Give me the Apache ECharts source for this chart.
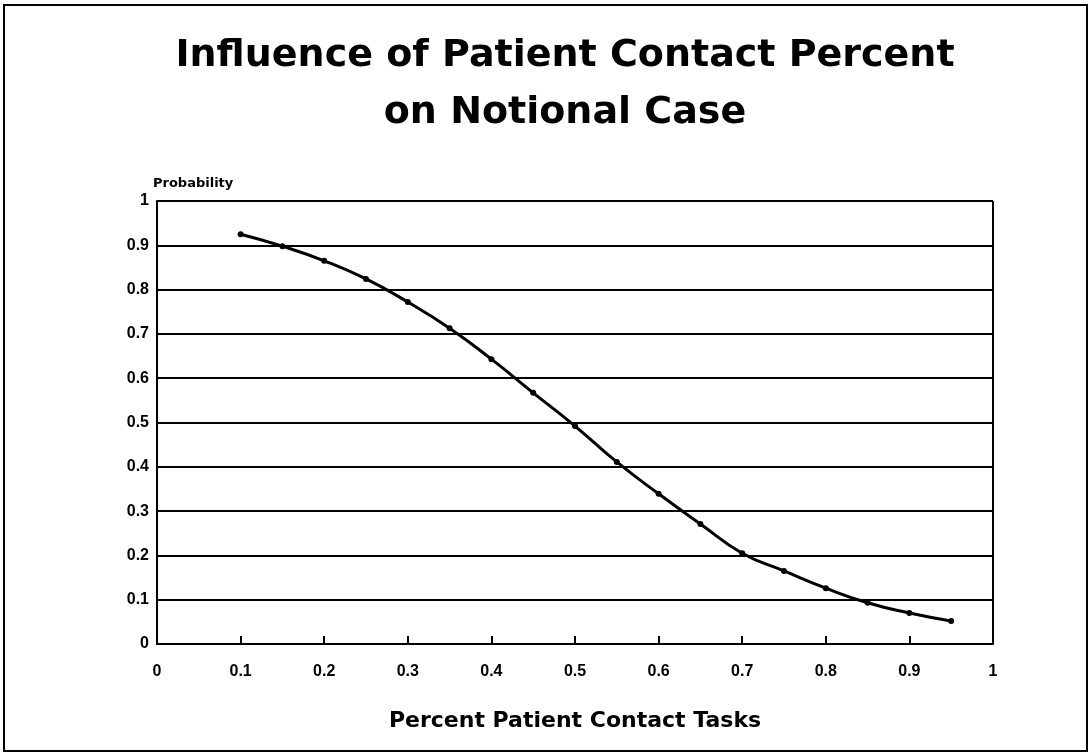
<!DOCTYPE html>
<html><head><meta charset="utf-8">
<script src="https://cdn.jsdelivr.net/npm/echarts@6/dist/echarts.min.js"></script>
<style>html,body{margin:0;padding:0;background:#fff}#c{width:1091px;height:753px}</style>
</head><body><div id="c"></div>
<script>
var xValues = [0.1,0.15,0.2,0.25,0.3,0.35,0.4,0.45,0.5,0.55,0.6,0.65,0.7,0.75,0.8,0.85,0.9,0.95];
var probability = [0.925,0.898,0.865,0.824,0.772,0.713,0.643,0.567,0.492,0.411,0.339,0.271,0.205,0.165,0.126,0.093,0.070,0.052];
var titleLines = ['Influence of Patient Contact Percent','on Notional Case'];
var xName = 'Percent Patient Contact Tasks';
var yName = 'Probability';

var chart = echarts.init(document.getElementById('c'));
var font = 'Liberation Sans';
var heavy = 'DejaVu Sans';
chart.setOption({
  backgroundColor:'#fff',
  animation:false,
  graphic:[{type:'rect',shape:{x:4,y:5,width:1083,height:746},style:{fill:'none',stroke:'#000',lineWidth:2},silent:true},
    {type:'line',shape:{x1:993,y1:201,x2:993,y2:644},style:{stroke:'#000',lineWidth:2},silent:true},
    {type:'text',x:565,y:28,silent:true,style:{text:titleLines.join('\n'),align:'center',verticalAlign:'top',
      fontFamily:heavy,fontWeight:'bold',fontSize:38,lineHeight:57,fill:'#000'}}],
  grid:{left:157,right:98,top:201,bottom:109,show:false},
  xAxis:{type:'value',min:0,max:1,interval:0.1,
    name:xName,nameLocation:'middle',nameGap:66,
    nameTextStyle:{fontFamily:heavy,fontWeight:'bold',fontSize:22,color:'#000'},
    axisLine:{show:true,lineStyle:{color:'#000',width:2}},
    axisTick:{show:true,inside:true,length:8,lineStyle:{color:'#000',width:2}},
    axisLabel:{fontFamily:font,fontWeight:'bold',fontSize:16,color:'#000',margin:20,
      formatter:function(v){return +v.toFixed(1)+'';}},
    splitLine:{show:false}},
  yAxis:{type:'value',min:0,max:1,interval:0.1,
    name:yName,nameLocation:'end',nameGap:11,
    nameTextStyle:{fontFamily:heavy,fontWeight:'bold',fontSize:13,color:'#000',align:'left',padding:[0,0,0,-4]},
    axisLine:{show:true,lineStyle:{color:'#000',width:2}},
    axisTick:{show:false},
    axisLabel:{fontFamily:font,fontWeight:'bold',fontSize:16,color:'#000',margin:8,
      formatter:function(v){return +v.toFixed(1)+'';}},
    splitLine:{show:true,lineStyle:{color:'#000',width:2}}},
  series:[{type:'line',data:xValues.map(function(x,i){return [x,probability[i]];}),
    smooth:true,symbol:'circle',symbolSize:6,
    itemStyle:{color:'#000'},lineStyle:{color:'#000',width:3}}]
});
</script></body></html>
